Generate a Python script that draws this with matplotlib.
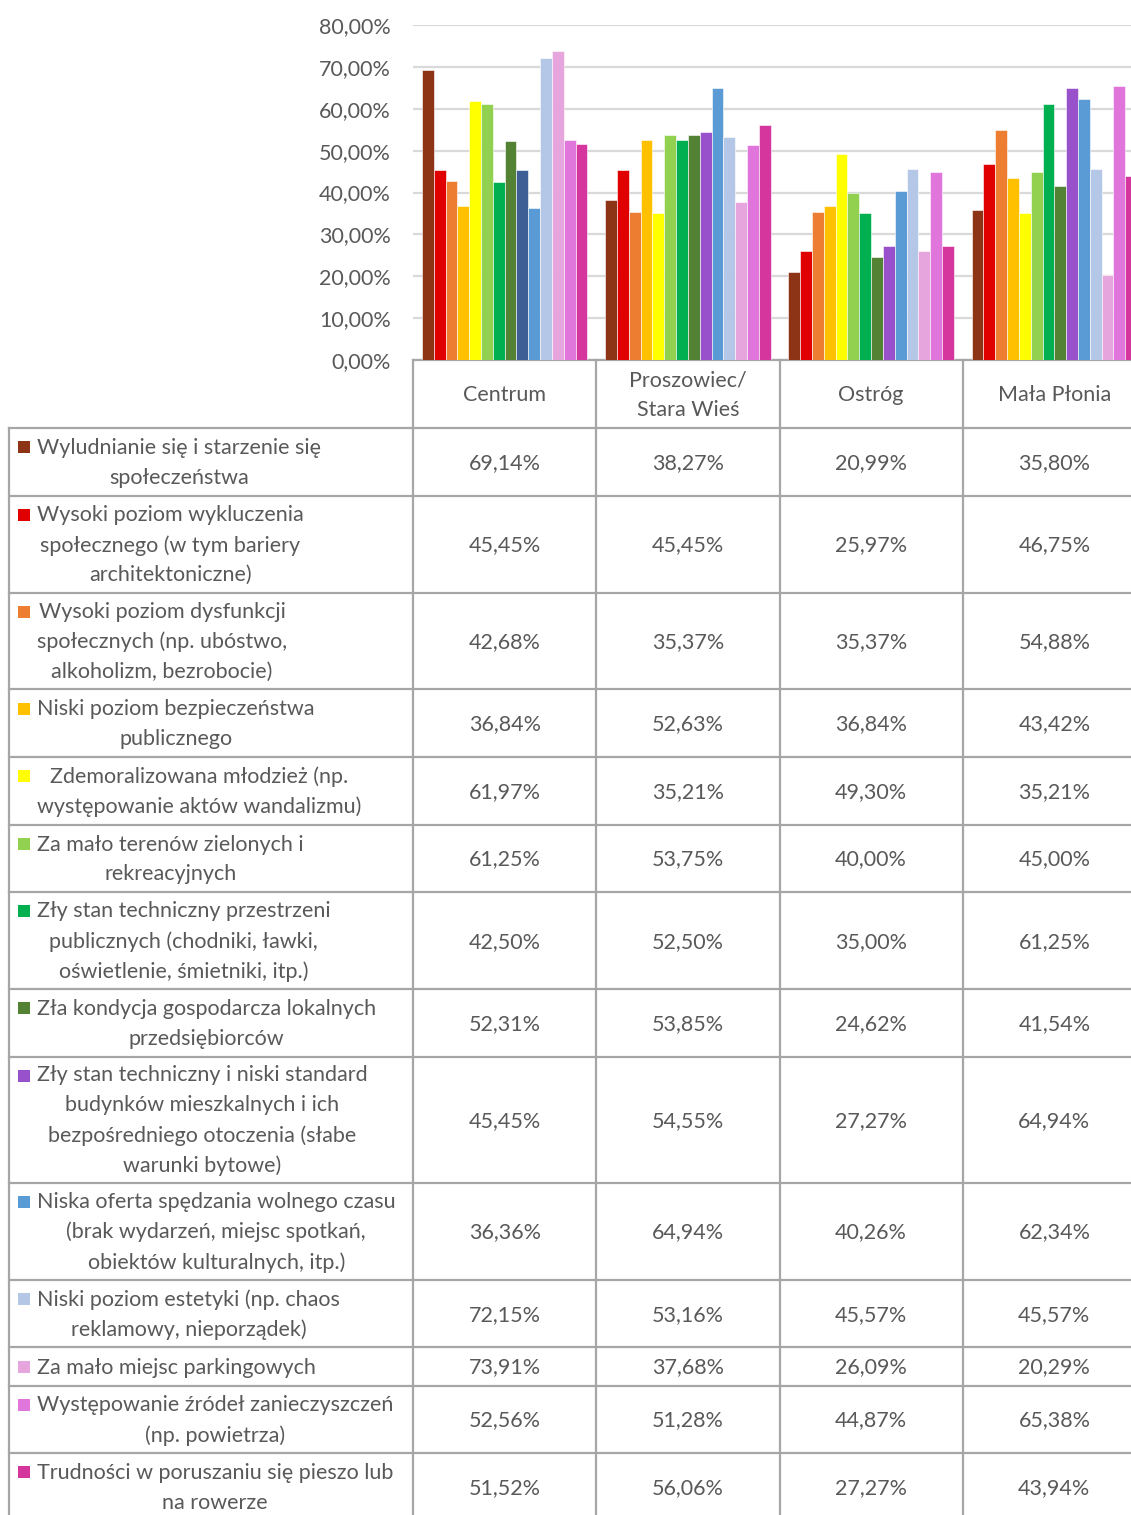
import matplotlib
matplotlib.use('Agg')
import matplotlib.pyplot as plt
from matplotlib.patches import Rectangle
import numpy as np

plt.rcParams['font.family'] = ['Lato', 'DejaVu Sans']

# categories (table columns)
areas = ['Centrum', 'Proszowiec/\nStara Wieś', 'Ostróg', 'Mała Płonia']

# series (table rows) - labels wrapped as in the original
problems = [
    'Wyludnianie się i starzenie się\nspołeczeństwa',
    'Wysoki poziom wykluczenia\nspołecznego (w tym bariery\narchitektoniczne)',
    'Wysoki poziom dysfunkcji\nspołecznych (np. ubóstwo,\nalkoholizm, bezrobocie)',
    'Niski poziom bezpieczeństwa\npublicznego',
    'Zdemoralizowana młodzież (np.\nwystępowanie aktów wandalizmu)',
    'Za mało terenów zielonych i\nrekreacyjnych',
    'Zły stan techniczny przestrzeni\npublicznych (chodniki, ławki,\noświetlenie, śmietniki, itp.)',
    'Zła kondycja gospodarcza lokalnych\nprzedsiębiorców',
    'Zły stan techniczny i niski standard\nbudynków mieszkalnych i ich\nbezpośredniego otoczenia (słabe\nwarunki bytowe)',
    'Niska oferta spędzania wolnego czasu\n(brak wydarzeń, miejsc spotkań,\nobiektów kulturalnych, itp.)',
    'Niski poziom estetyki (np. chaos\nreklamowy, nieporządek)',
    'Za mało miejsc parkingowych',
    'Występowanie źródeł zanieczyszczeń\n(np. powietrza)',
    'Trudności w poruszaniu się pieszo lub\nna rowerze',
]

# percentages: one list per problem, values for Centrum, Proszowiec, Ostróg, Mała Płonia
values = [
    [69.14, 38.27, 20.99, 35.80],
    [45.45, 45.45, 25.97, 46.75],
    [42.68, 35.37, 35.37, 54.88],
    [36.84, 52.63, 36.84, 43.42],
    [61.97, 35.21, 49.30, 35.21],
    [61.25, 53.75, 40.00, 45.00],
    [42.50, 52.50, 35.00, 61.25],
    [52.31, 53.85, 24.62, 41.54],
    [45.45, 54.55, 27.27, 64.94],
    [36.36, 64.94, 40.26, 62.34],
    [72.15, 53.16, 45.57, 45.57],
    [73.91, 37.68, 26.09, 20.29],
    [52.56, 51.28, 44.87, 65.38],
    [51.52, 56.06, 27.27, 43.94],
]

colors = ['#8E3416', '#E00000', '#ED7D31', '#FFC000', '#FFFF00', '#92D050',
          '#00B050', '#548235', '#9950CB', '#5B9BD5', '#B4C7E7', '#E6A5DC',
          '#E075DC', '#D4369E']
# in the original one bar (Centrum, series 9) is drawn in dark blue
point_colors = {(8, 0): '#3E5E96'}

TXT = '#595959'
GRID = '#D9D9D9'
LINE = '#A6A6A6'
W, H = 1131, 1515
FS = 15.5
line_h = 29.3
# matplotlib spaces lines by ~0.85 em * linespacing
LS = line_h / (0.85 * FS * 100 / 72)

fig = plt.figure(figsize=(W / 100, H / 100), dpi=100)

# overlay axes in pixel units for the data table
tab = fig.add_axes([0, 0, 1, 1])
tab.set_xlim(0, W)
tab.set_ylim(H, 0)
tab.axis('off')

# bar chart axes (right edge runs past the figure like the original crop)
x0, x1 = 413, 413 + 4 * 183.25
y0, y1 = 360, 25
ax = fig.add_axes([x0 / W, (H - y0) / H, (x1 - x0) / W, (y0 - y1) / H])
ax.set_xlim(-0.5, 3.5)
ax.set_ylim(0, 0.8)
ax.patch.set_alpha(0)

n = len(problems)
bw = 1.0 / (n + 1.5)
xs = np.arange(len(areas))
for j in range(n):
    cols = [point_colors.get((j, i), colors[j]) for i in range(len(areas))]
    ax.bar(xs + (j - (n - 1) / 2) * bw, np.array(values[j]) / 100, width=bw,
           color=cols, edgecolor='white', linewidth=0.4, zorder=3)

ticks = np.arange(0, 0.81, 0.1)
ax.set_yticks(ticks)
ax.set_yticklabels([('%.2f%%' % (t * 100)).replace('.', ',') for t in ticks])
ax.tick_params(axis='y', length=0, pad=16, labelsize=FS, labelcolor=TXT)
ax.set_xticks([])
ax.grid(axis='y', color=GRID, linewidth=1.6, zorder=0)
for s in ['top', 'right', 'left']:
    ax.spines[s].set_visible(False)
ax.spines['bottom'].set_color(LINE)
ax.spines['bottom'].set_linewidth(1.6)

# table geometry
col_w = 183.25
col_edges = [x0 + k * col_w for k in range(len(areas) + 1)]
hdr_top, hdr_bot = 360, 428
nlines = [p.count('\n') + 1 for p in problems]
bounds = [hdr_bot]
for nl in nlines:
    bounds.append(bounds[-1] + 9 + line_h * nl)

lw = 1.6
# vertical lines
for cx in col_edges:
    tab.plot([cx, cx], [hdr_top, bounds[-1]], color=LINE, lw=lw)
tab.plot([9, 9], [hdr_bot, bounds[-1]], color=LINE, lw=lw)
# horizontal lines
for b in bounds:
    tab.plot([9, W + 20], [b, b], color=LINE, lw=lw)

# header
for i, a in enumerate(areas):
    tab.text((col_edges[i] + col_edges[i + 1]) / 2, (hdr_top + hdr_bot) / 2 + 1, a,
             ha='center', va='center', fontsize=FS, color=TXT, linespacing=LS)

# rows
for j, p in enumerate(problems):
    cy = (bounds[j] + bounds[j + 1]) / 2
    tab.text(37, cy + 1, p, ha='left', va='center', multialignment='center',
             fontsize=FS, color=TXT, linespacing=LS)
    first = cy - (nlines[j] - 1) / 2 * line_h
    tab.add_patch(Rectangle((18, first - 6), 12, 12, color=colors[j], lw=0))
    for i in range(len(areas)):
        tab.text((col_edges[i] + col_edges[i + 1]) / 2, cy + 1,
                 ('%.2f%%' % values[j][i]).replace('.', ','),
                 ha='center', va='center', fontsize=FS, color=TXT)

fig.savefig('out.png', dpi=100)
